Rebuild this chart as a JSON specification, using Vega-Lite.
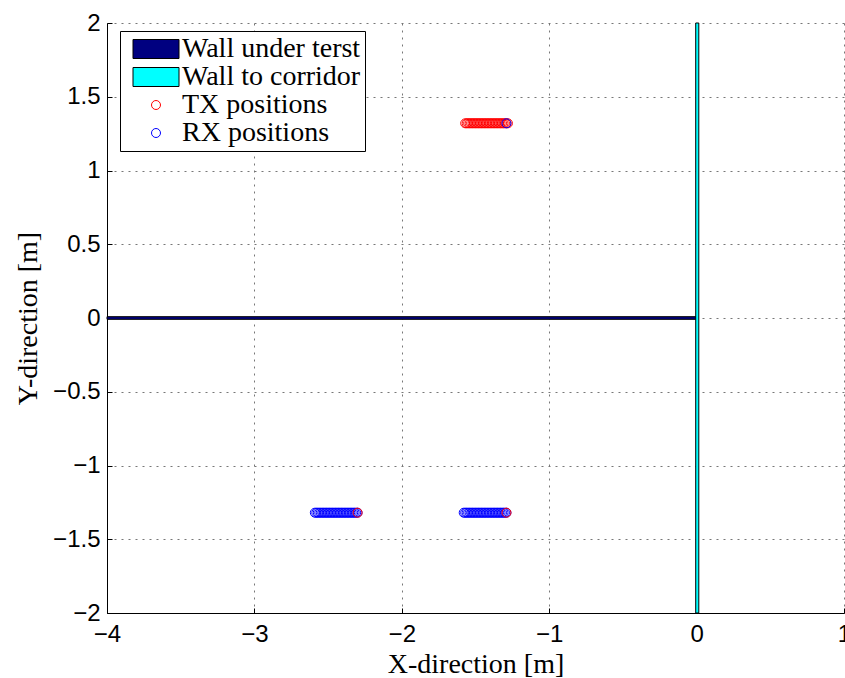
{
  "$schema": "https://vega.github.io/schema/vega-lite/v6.json",
  "width": 737,
  "height": 590,
  "autosize": {"type": "none"},
  "padding": {"left": 107, "top": 23, "right": 1, "bottom": 65},
  "background": "white",
  "config": {
    "view": {"stroke": null},
    "axis": {
      "grid": true,
      "gridDash": [2, 5],
      "gridColor": "#777777",
      "gridWidth": 1,
      "domainColor": "black",
      "domainWidth": 1,
      "tickColor": "black",
      "tickSize": -5,
      "labelFont": "Liberation Sans",
      "labelFontSize": 24,
      "labelColor": "black",
      "labelFlush": false,
      "labelOverlap": false,
      "titleFont": "Liberation Serif",
      "titleFontSize": 28,
      "titleFontWeight": "normal",
      "titleColor": "black",
      "format": "~g"
    }
  },
  "datasets": {
    "walls": [
      {"series": "Wall under terst", "x": -4, "x2": 0, "y": -0.009, "y2": 0.009},
      {"series": "Wall to corridor", "x": -0.006, "x2": 0.015, "y": -2, "y2": 2}
    ],
    "points": [
      {"series": "RX positions", "x": -2.59, "y": -1.32},
      {"series": "RX positions", "x": -2.58, "y": -1.32},
      {"series": "RX positions", "x": -2.57, "y": -1.32},
      {"series": "RX positions", "x": -2.56, "y": -1.32},
      {"series": "RX positions", "x": -2.55, "y": -1.32},
      {"series": "RX positions", "x": -2.54, "y": -1.32},
      {"series": "RX positions", "x": -2.53, "y": -1.32},
      {"series": "RX positions", "x": -2.52, "y": -1.32},
      {"series": "RX positions", "x": -2.51, "y": -1.32},
      {"series": "RX positions", "x": -2.50, "y": -1.32},
      {"series": "RX positions", "x": -2.49, "y": -1.32},
      {"series": "RX positions", "x": -2.48, "y": -1.32},
      {"series": "RX positions", "x": -2.47, "y": -1.32},
      {"series": "RX positions", "x": -2.46, "y": -1.32},
      {"series": "RX positions", "x": -2.45, "y": -1.32},
      {"series": "RX positions", "x": -2.44, "y": -1.32},
      {"series": "RX positions", "x": -2.43, "y": -1.32},
      {"series": "RX positions", "x": -2.42, "y": -1.32},
      {"series": "RX positions", "x": -2.41, "y": -1.32},
      {"series": "RX positions", "x": -2.40, "y": -1.32},
      {"series": "RX positions", "x": -2.39, "y": -1.32},
      {"series": "RX positions", "x": -2.38, "y": -1.32},
      {"series": "RX positions", "x": -2.37, "y": -1.32},
      {"series": "RX positions", "x": -2.36, "y": -1.32},
      {"series": "RX positions", "x": -2.35, "y": -1.32},
      {"series": "RX positions", "x": -2.34, "y": -1.32},
      {"series": "RX positions", "x": -2.33, "y": -1.32},
      {"series": "RX positions", "x": -2.32, "y": -1.32},
      {"series": "RX positions", "x": -2.31, "y": -1.32},
      {"series": "RX positions", "x": -2.30, "y": -1.32},
      {"series": "RX positions", "x": -1.58, "y": -1.32},
      {"series": "RX positions", "x": -1.57, "y": -1.32},
      {"series": "RX positions", "x": -1.56, "y": -1.32},
      {"series": "RX positions", "x": -1.55, "y": -1.32},
      {"series": "RX positions", "x": -1.54, "y": -1.32},
      {"series": "RX positions", "x": -1.53, "y": -1.32},
      {"series": "RX positions", "x": -1.52, "y": -1.32},
      {"series": "RX positions", "x": -1.51, "y": -1.32},
      {"series": "RX positions", "x": -1.50, "y": -1.32},
      {"series": "RX positions", "x": -1.49, "y": -1.32},
      {"series": "RX positions", "x": -1.48, "y": -1.32},
      {"series": "RX positions", "x": -1.47, "y": -1.32},
      {"series": "RX positions", "x": -1.46, "y": -1.32},
      {"series": "RX positions", "x": -1.45, "y": -1.32},
      {"series": "RX positions", "x": -1.44, "y": -1.32},
      {"series": "RX positions", "x": -1.43, "y": -1.32},
      {"series": "RX positions", "x": -1.42, "y": -1.32},
      {"series": "RX positions", "x": -1.41, "y": -1.32},
      {"series": "RX positions", "x": -1.40, "y": -1.32},
      {"series": "RX positions", "x": -1.39, "y": -1.32},
      {"series": "RX positions", "x": -1.38, "y": -1.32},
      {"series": "RX positions", "x": -1.37, "y": -1.32},
      {"series": "RX positions", "x": -1.36, "y": -1.32},
      {"series": "RX positions", "x": -1.35, "y": -1.32},
      {"series": "RX positions", "x": -1.34, "y": -1.32},
      {"series": "RX positions", "x": -1.33, "y": -1.32},
      {"series": "RX positions", "x": -1.32, "y": -1.32},
      {"series": "RX positions", "x": -1.31, "y": -1.32},
      {"series": "RX positions", "x": -1.30, "y": -1.32},
      {"series": "RX positions", "x": -1.29, "y": -1.32},
      {"series": "TX positions", "x": -1.57, "y": 1.32},
      {"series": "TX positions", "x": -1.56, "y": 1.32},
      {"series": "TX positions", "x": -1.55, "y": 1.32},
      {"series": "TX positions", "x": -1.54, "y": 1.32},
      {"series": "TX positions", "x": -1.53, "y": 1.32},
      {"series": "TX positions", "x": -1.52, "y": 1.32},
      {"series": "TX positions", "x": -1.51, "y": 1.32},
      {"series": "TX positions", "x": -1.50, "y": 1.32},
      {"series": "TX positions", "x": -1.49, "y": 1.32},
      {"series": "TX positions", "x": -1.48, "y": 1.32},
      {"series": "TX positions", "x": -1.47, "y": 1.32},
      {"series": "TX positions", "x": -1.46, "y": 1.32},
      {"series": "TX positions", "x": -1.45, "y": 1.32},
      {"series": "TX positions", "x": -1.44, "y": 1.32},
      {"series": "TX positions", "x": -1.43, "y": 1.32},
      {"series": "TX positions", "x": -1.42, "y": 1.32},
      {"series": "TX positions", "x": -1.41, "y": 1.32},
      {"series": "TX positions", "x": -1.40, "y": 1.32},
      {"series": "TX positions", "x": -1.39, "y": 1.32},
      {"series": "TX positions", "x": -1.38, "y": 1.32},
      {"series": "TX positions", "x": -1.37, "y": 1.32},
      {"series": "TX positions", "x": -1.36, "y": 1.32},
      {"series": "TX positions", "x": -1.35, "y": 1.32},
      {"series": "TX positions", "x": -1.34, "y": 1.32},
      {"series": "TX positions", "x": -1.33, "y": 1.32},
      {"series": "TX positions", "x": -1.32, "y": 1.32},
      {"series": "TX positions", "x": -1.31, "y": 1.32},
      {"series": "TX positions", "x": -1.30, "y": 1.32},
      {"series": "TX positions", "x": -1.29, "y": 1.32},
      {"series": "TX positions", "x": -1.28, "y": 1.32},
      {"series": "TX positions", "x": -2.30, "y": -1.32},
      {"series": "TX positions", "x": -1.29, "y": -1.32},
      {"series": "RX positions", "x": -1.29, "y": 1.32}
    ]
  },
  "layer": [
    {
      "data": {"name": "walls"},
      "mark": {"type": "rect", "strokeWidth": 1},
      "encoding": {
        "x": {"field": "x", "type": "quantitative", "scale": {"domain": [-4, 1], "nice": false, "zero": false},
              "axis": {"values": [-4, -3, -2, -1, 0, 1], "title": "X-direction [m]", "labelPadding": 14, "titlePadding": 4}},
        "x2": {"field": "x2"},
        "y": {"field": "y", "type": "quantitative", "scale": {"domain": [-2, 2], "nice": false, "zero": false},
              "axis": {"values": [-2, -1.5, -1, -0.5, 0, 0.5, 1, 1.5, 2], "title": "Y-direction [m]", "labelPadding": 12, "titlePadding": 10}},
        "y2": {"field": "y2"},
        "fill": {"field": "series", "type": "nominal",
                 "scale": {"domain": ["Wall under terst", "Wall to corridor", "TX positions", "RX positions"],
                           "range": ["#000080", "#00ffff", "transparent", "transparent"]}},
        "stroke": {"field": "series", "type": "nominal",
                   "scale": {"domain": ["Wall under terst", "Wall to corridor", "TX positions", "RX positions"],
                             "range": ["#000000", "#000000", "#ff0000", "#0000ff"]}}
      }
    },
    {
      "data": {"name": "points"},
      "mark": {"type": "point", "filled": false, "opacity": 1, "strokeWidth": 1, "size": 400},
      "encoding": {
        "x": {"field": "x", "type": "quantitative"},
        "y": {"field": "y", "type": "quantitative"},
        "shape": {"field": "series", "type": "nominal",
                  "scale": {"domain": ["Wall under terst", "Wall to corridor", "TX positions", "RX positions"],
                            "range": ["M-2.3,-0.95L2.3,-0.95L2.3,0.95L-2.3,0.95Z", "M-2.3,-0.95L2.3,-0.95L2.3,0.95L-2.3,0.95Z",
                                      "M-0.45,0A0.45,0.45,0,1,0,0.45,0A0.45,0.45,0,1,0,-0.45,0Z", "M-0.45,0A0.45,0.45,0,1,0,0.45,0A0.45,0.45,0,1,0,-0.45,0Z"]},
                  "legend": {"title": null, "orient": "none", "legendX": 13, "legendY": 8, "padding": 4,
                             "strokeColor": "black", "fillColor": "white",
                             "symbolSize": 400, "symbolStrokeWidth": 1, "symbolOffset": 18,
                             "labelOffset": 12, "labelFont": "Liberation Serif", "labelFontSize": 28,
                             "labelColor": "black", "labelLimit": 0, "rowPadding": 0}},
        "fill": {"field": "series", "type": "nominal"},
        "stroke": {"field": "series", "type": "nominal"}
      }
    }
  ]
}
